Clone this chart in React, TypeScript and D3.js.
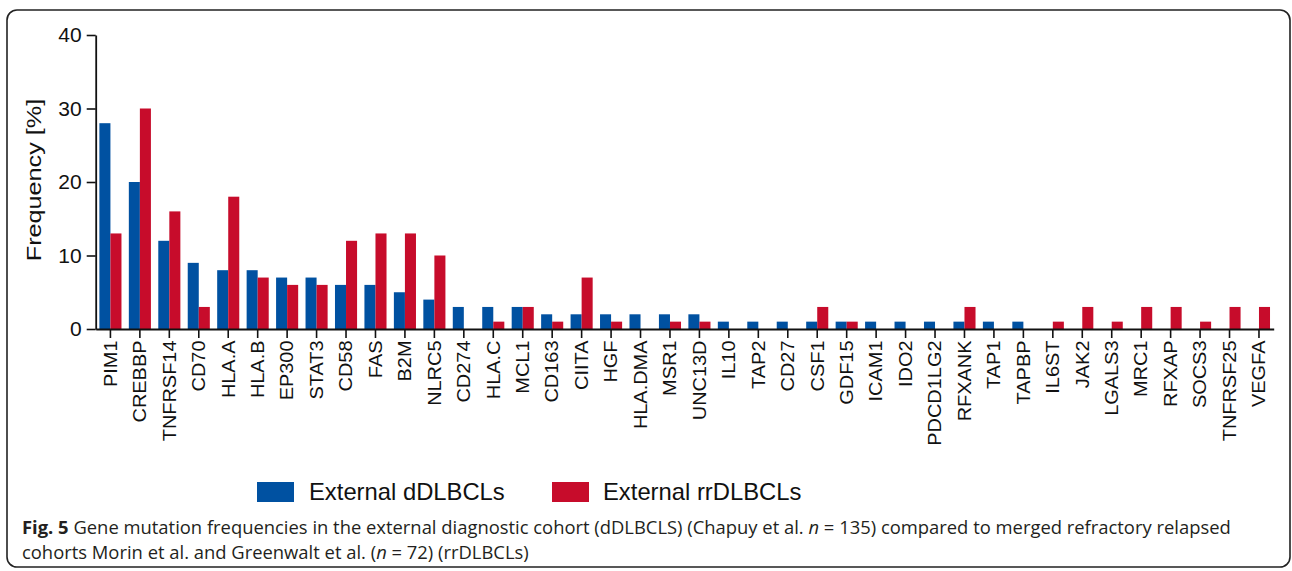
import React, { useEffect, useRef } from 'react';
import * as d3 from 'd3';

const genes = [
  'PIM1', 'CREBBP', 'TNFRSF14', 'CD70', 'HLA.A', 'HLA.B', 'EP300', 'STAT3', 'CD58', 'FAS',
  'B2M', 'NLRC5', 'CD274', 'HLA.C', 'MCL1', 'CD163', 'CIITA', 'HGF', 'HLA.DMA', 'MSR1',
  'UNC13D', 'IL10', 'TAP2', 'CD27', 'CSF1', 'GDF15', 'ICAM1', 'IDO2', 'PDCD1LG2', 'RFXANK',
  'TAP1', 'TAPBP', 'IL6ST', 'JAK2', 'LGALS3', 'MRC1', 'RFXAP', 'SOCS3', 'TNFRSF25', 'VEGFA',
];

// External dDLBCLs (%)
const dValues = [
  28, 20, 12, 9, 8, 8, 7, 7, 6, 6,
  5, 4, 3, 3, 3, 2, 2, 2, 2, 2,
  2, 1, 1, 1, 1, 1, 1, 1, 1, 1,
  1, 1, 0, 0, 0, 0, 0, 0, 0, 0,
];

// External rrDLBCLs (%)
const rrValues = [
  13, 30, 16, 3, 18, 7, 6, 6, 12, 13,
  13, 10, 0, 1, 3, 1, 7, 1, 0, 1,
  1, 0, 0, 0, 3, 1, 0, 0, 0, 3,
  0, 0, 1, 3, 1, 3, 3, 1, 3, 3,
];

const yTicks = [0, 10, 20, 30, 40];
const seriesNames = ['External dDLBCLs', 'External rrDLBCLs'];

const BLUE = '#0051a1';
const RED = '#c70c2b';
const W = 1292;
const H = 571;
const FONT = 'Liberation Sans, Arial, sans-serif';

export default function App() {
  const xAxisRef = useRef<SVGGElement>(null);
  const yAxisRef = useRef<SVGGElement>(null);

  const x = d3.scaleBand<string>().domain(genes).range([95.7, 1273.7]).padding(0);
  const y = d3.scaleLinear().domain([0, 40]).range([329, 35]);
  const barW = x.bandwidth() * 0.375;

  useEffect(() => {
    const stretch = 1.14; // labels in the figure run a little longer than the font
    const xa = d3.select(xAxisRef.current!);
    xa.call(d3.axisBottom(x).tickSize(9).tickSizeOuter(0).tickPadding(2) as any);
    xa.select('.domain').attr('stroke-width', 1.8).attr('stroke', '#111');
    xa.selectAll('.tick line').attr('stroke-width', 1.6).attr('stroke', '#111');
    xa.selectAll('.tick text')
      .attr('transform', `rotate(-90) scale(${stretch},1)`)
      .attr('text-anchor', 'end')
      .attr('x', -11.5 / stretch)
      .attr('y', 0)
      .attr('dy', '0.36em')
      .attr('font-size', 17.5)
      .attr('font-family', FONT)
      .attr('fill', '#111');

    const ya = d3.select(yAxisRef.current!);
    ya.call(d3.axisLeft(y).tickValues(yTicks).tickSize(9).tickSizeOuter(0).tickPadding(5) as any);
    ya.select('.domain').attr('stroke-width', 1.8).attr('stroke', '#111');
    ya.selectAll('.tick line').attr('stroke-width', 1.6).attr('stroke', '#111');
    ya.selectAll('.tick text')
      .attr('font-size', 21)
      .attr('font-family', FONT)
      .attr('fill', '#111');
  }, []);

  return (
    <div style={{ position: 'absolute', left: 0, top: 0 }}>
      <svg width={W} height={H} style={{ display: 'block', background: '#fff' }}>
        <rect x={7} y={10} width={1283} height={557} rx={10} fill="none" stroke="#222" strokeWidth={1.6} />

        <g>
          {genes.map((g, i) => {
            const cx = x(g)! + x.bandwidth() / 2;
            return (
              <g key={g}>
                {dValues[i] > 0 && (
                  <rect x={cx - barW} y={y(dValues[i])} width={barW} height={y(0) - y(dValues[i])} fill={BLUE} />
                )}
                {rrValues[i] > 0 && (
                  <rect x={cx} y={y(rrValues[i])} width={barW} height={y(0) - y(rrValues[i])} fill={RED} />
                )}
              </g>
            );
          })}
        </g>

        <g ref={xAxisRef} transform={`translate(0,${y(0)})`} />
        <g ref={yAxisRef} transform={`translate(${x.range()[0]},0)`} />

        <text
          transform="translate(41,180) rotate(-90) scale(1.2,1)"
          textAnchor="middle"
          fontSize={21}
          fontFamily={FONT}
          fill="#111"
        >
          Frequency [%]
        </text>

        <g fontFamily={FONT} fontSize={23.8} fill="#111">
          <rect x={257} y={482} width={37} height={20} fill={BLUE} />
          <text x={309} y={500}>{seriesNames[0]}</text>
          <rect x={552} y={482} width={37} height={20} fill={RED} />
          <text x={603} y={500}>{seriesNames[1]}</text>
        </g>

        <g fontFamily="Open Sans, sans-serif" fontSize={18.4} fill="#231f20">
          <text x={22} y={534}>
            <tspan fontWeight="bold">Fig. 5</tspan>
            {' Gene mutation frequencies in the external diagnostic cohort (dDLBCLS) (Chapuy et al. '}
            <tspan fontStyle="italic">n</tspan>
            {' = 135) compared to merged refractory relapsed'}
          </text>
          <text x={22} y={559}>
            {'cohorts Morin et al. and Greenwalt et al. ('}
            <tspan fontStyle="italic">n</tspan>
            {' = 72) (rrDLBCLs)'}
          </text>
        </g>
      </svg>
    </div>
  );
}
